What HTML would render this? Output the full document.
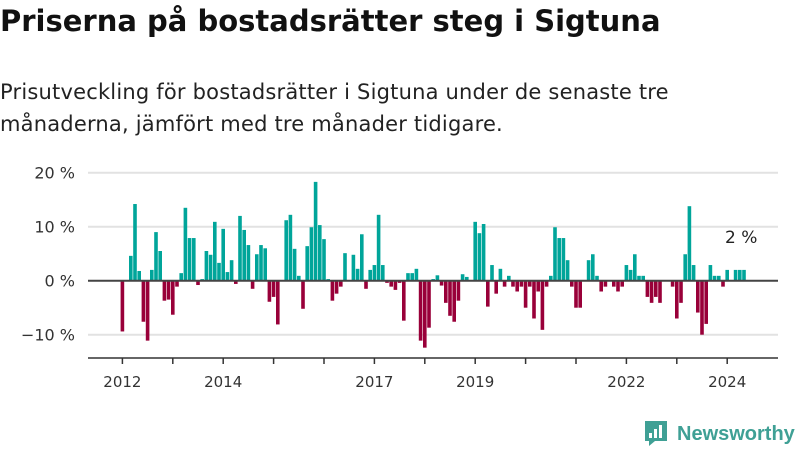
<!DOCTYPE html>
<html><head><meta charset="utf-8"><style>
body{margin:0;width:800px;height:450px;background:#fff;font-family:"DejaVu Sans","Liberation Sans",sans-serif;overflow:hidden;position:relative}
#title{position:absolute;left:0;top:4px;font-size:29px;font-weight:bold;color:#111;letter-spacing:0px;white-space:nowrap}
#sub{position:absolute;left:0;top:76px;font-size:21px;line-height:32px;color:#222;letter-spacing:0.2px;white-space:nowrap}
svg{position:absolute;left:0;top:0}
svg text{font-family:"DejaVu Sans","Liberation Sans",sans-serif}
</style></head><body>
<div id="title">Priserna på bostadsrätter steg i Sigtuna</div>
<div id="sub">Prisutveckling för bostadsrätter i Sigtuna under de senaste tre<br>månaderna, jämfört med tre månader tidigare.</div>
<svg id="chart" width="800" height="450"></svg>
<script>
const values=[-9.4,0,4.6,14.2,1.8,-7.6,-11.1,2.0,9.0,5.5,-3.7,-3.5,-6.3,-1.1,1.4,13.5,7.9,7.9,-0.8,0.3,5.5,4.8,10.9,3.3,9.6,1.6,3.8,-0.6,12.0,9.4,6.6,-1.5,4.9,6.6,6.0,-3.9,-3.0,-8.1,
0,11.2,12.2,5.9,0.9,-5.2,6.4,9.9,18.3,10.3,7.7,0.3,-3.7,-2.4,-1.1,5.1,0,4.8,2.2,8.6,-1.5,2.0,2.9,12.2,2.9,-0.4,-1.1,-1.7,-0.4,-7.4,1.4,1.4,2.2,-11.1,-12.4,-8.7,0.3,1.0,-0.9,
-4.1,-6.5,-7.6,-3.7,1.2,0.7,0,10.9,8.8,10.5,-4.8,2.9,-2.4,2.2,-1.1,0.9,-1.1,-2.0,-1.1,-5.0,-1.1,-7.0,-2.0,-9.1,-1.1,0.9,9.9,7.9,7.9,3.8,-1.1,-5.0,-5.0,0,3.8,4.9,0.9,-2.0,
-1.1,0,-1.1,-2.0,-1.1,2.9,2.0,4.9,0.9,0.9,-3.0,-4.1,-3.0,-4.1,0,0,-1.1,-7.0,-4.1,4.9,13.8,2.9,-5.9,-10.0,-8.0,2.9,0.9,0.9,-1.1,2.0,0,2.0,2.0,2.0];
const startYear=2012;
const yTicks=[-10,0,10,20];
const yTickLabels=["−10 %","0 %","10 %","20 %"];
const xLabelYears=[2012,2014,2017,2019,2022,2024];
const lastLabel="2 %";
const NS="http://www.w3.org/2000/svg";
const svg=document.getElementById('chart');
const x0=120.6,step=4.2,zeroY=280.7,pxPer=5.4;
const xs=i=>x0+i*step;
const ys=v=>zeroY-v*pxPer;
function mk(t,a){const e=document.createElementNS(NS,t);for(const k in a)e.setAttribute(k,a[k]);svg.appendChild(e);return e;}
yTicks.forEach((t,k)=>{
  if(t!==0){const g=mk('line',{x1:88,x2:778,y1:ys(t),y2:ys(t),stroke:'#e2e2e2','stroke-width':2});
  
  }
  const l=mk('text',{x:75,y:ys(t)+6,'text-anchor':'end','font-size':16,fill:'#333'});
  l.textContent=yTickLabels[k];
  
  
});
values.forEach((v,i)=>{
  const y=ys(Math.max(v,0)),h=Math.abs(v)*pxPer;
  const r=mk('rect',{x:xs(i),y:y,width:3.6,height:h,fill:v>=0?'#00a59a':'#990039'});
  
  
});
const z=mk('line',{x1:88,x2:778,y1:zeroY,y2:zeroY,stroke:'#444','stroke-width':2});


const ax=mk('line',{x1:88,x2:778,y1:358,y2:358,stroke:'#333','stroke-width':1.5});


for(let yr=startYear;yr<=2024;yr++){
  const x=xs((yr-startYear)*12)+1.8;
  const t=mk('line',{x1:x,x2:x,y1:358,y2:364,stroke:'#333','stroke-width':1.5});
  
  
  if(xLabelYears.includes(yr)){
    const l=mk('text',{x:x,y:387,'text-anchor':'middle','font-size':15,fill:'#333'});
    l.textContent=yr;
    
    
  }
}
const li=values.length-1;
const lab=mk('text',{x:xs(li)-1,y:ys(values[li])-27,'text-anchor':'middle','font-size':17,fill:'#222'});
lab.textContent=lastLabel;


const lg=mk('g',{});


const bx=document.createElementNS(NS,'path');
bx.setAttribute('d','M645 421h22v20h-12l-6 5v-5h-4z');bx.setAttribute('fill','#3fa095');lg.appendChild(bx);
[[649,433,3,5],[654,429,3,9],[659,425,3,13]].forEach(b=>{const r=document.createElementNS(NS,'rect');r.setAttribute('x',b[0]);r.setAttribute('y',b[1]);r.setAttribute('width',b[2]);r.setAttribute('height',b[3]);r.setAttribute('fill','#fff');lg.appendChild(r);});
const tx=document.createElementNS(NS,'text');
tx.setAttribute('x',677);tx.setAttribute('y',440);tx.setAttribute('font-size',20);tx.setAttribute('font-weight','bold');tx.setAttribute('fill','#3fa095');
tx.setAttribute('style','font-family:"Liberation Sans",sans-serif');
tx.textContent='Newsworthy';lg.appendChild(tx);
</script>
</body></html>
